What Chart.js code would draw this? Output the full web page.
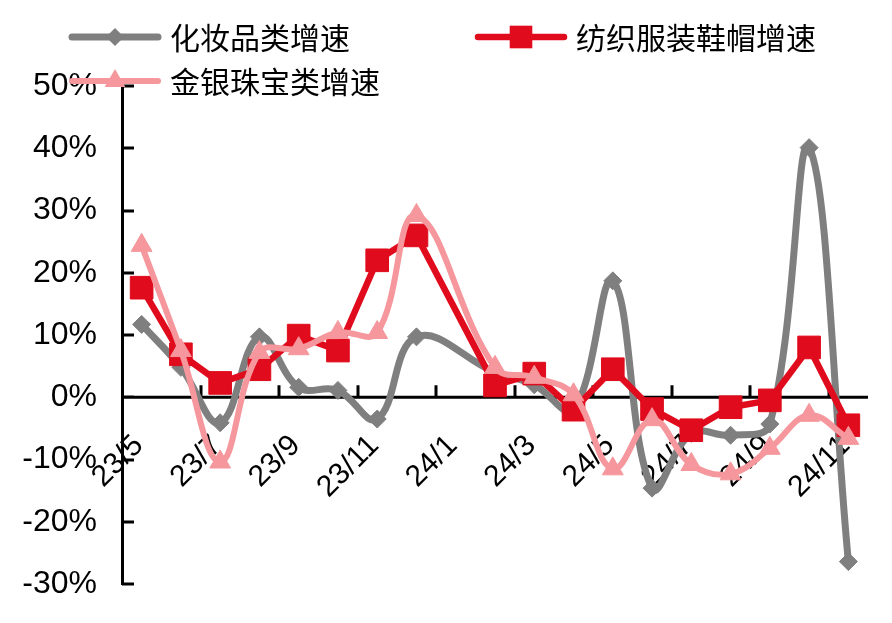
<!DOCTYPE html>
<html>
<head>
<meta charset="utf-8">
<script src="https://cdn.jsdelivr.net/npm/chart.js@4.4.1/dist/chart.umd.min.js"></script>
<style>
  html, body { margin: 0; padding: 0; background: #fff; }
  #chart { display: block; }
</style>
</head>
<body>
<canvas id="chart" width="892" height="623"></canvas>
<script>
// Datos (% interanual). 24/1 sin dato: enero-febrero se publica junto en 24/2
const categories = ['23/5', '23/6', '23/7', '23/8', '23/9', '23/10', '23/11', '23/12',
    '24/1', '24/2', '24/3', '24/4', '24/5', '24/6', '24/7', '24/8', '24/9', '24/10', '24/11'];
const cosmetics = [11.7, 4.8, -4.1, 9.7, 1.6, 1.1, -3.5, 9.7, null, 4.0, 2.0, -2.0, 18.7, -14.6, -5.8, -6.1, -4.3, 40.1, -26.4];
const apparel = [17.6, 6.9, 2.3, 4.5, 9.9, 7.5, 22.0, 26.0, null, 1.9, 3.8, -2.0, 4.5, -1.9, -5.3, -1.6, -0.5, 8.0, -4.5];
const jewelry = [24.4, 7.5, -10.4, 7.2, 7.8, 10.4, 10.4, 29.2, null, 4.8, 3.2, 0.4, -11.5, -3.6, -10.8, -12.3, -8.2, -2.9, -6.6];
const yTickMin = -30;
const yTickMax = 50;
const yTickStep = 10;

// Colores del tema
const themeColors = {
    cosmetics: '#7f7f7f',
    apparel: '#e00b1c',
    jewelry: '#f5979c',
    axis: '#000000',
    text: '#000000'
};

const xTickFont = { family: "'Liberation Sans', Arial, sans-serif", size: 30 };
const yTickFont = { family: "'Liberation Sans', Arial, sans-serif", size: 32 };
const legendFont = "30px 'Noto Sans CJK SC', sans-serif";

// Series en el orden de la leyenda
const seriesInfo = [
    { label: '化妆品类增速', data: cosmetics, color: themeColors.cosmetics, marker: 'rectRot', radius: 9, width: 7, tension: 0.4, order: 2 },
    { label: '纺织服装鞋帽增速', data: apparel, color: themeColors.apparel, marker: 'rect', radius: 16, width: 6.5, tension: 0, order: 1 },
    { label: '金银珠宝类增速', data: jewelry, color: themeColors.jewelry, marker: 'triangle', radius: 12, width: 6, tension: 0.4, order: 0 }
];

// Sin márgenes extra de las escalas: el área del gráfico queda fija
function noScalePadding(scale) {
    scale.paddingLeft = 0;
    scale.paddingRight = 0;
    scale.paddingTop = 0;
    scale.paddingBottom = 0;
}

// Eje en 0% y marcas de graduación hacia dentro (bajo las series)
const insideTicks = {
    id: 'insideTicks',
    beforeDatasetsDraw(chart) {
        const { ctx, scales: { x, y } } = chart;
        const len = 12;
        const zero = y.getPixelForValue(0);
        ctx.save();
        ctx.strokeStyle = themeColors.axis;
        ctx.lineWidth = 3;
        ctx.beginPath();
        ctx.moveTo(x.left, zero);
        ctx.lineTo(x.right, zero);
        y.ticks.forEach(t => {
            const py = Math.round(y.getPixelForValue(t.value));
            ctx.moveTo(y.right, py);
            ctx.lineTo(y.right + len, py);
        });
        const half = (x.getPixelForValue(1) - x.getPixelForValue(0)) / 2;
        for (let i = 2; i < categories.length; i += 2) {
            const px = Math.round(x.getPixelForValue(i) - half);
            ctx.moveTo(px, zero);
            ctx.lineTo(px, zero - len);
        }
        ctx.stroke();
        ctx.restore();
    }
};

function drawMarker(ctx, type, cx, cy, r) {
    ctx.beginPath();
    if (type === 'rect') {
        const s = r * Math.SQRT1_2;
        ctx.rect(cx - s, cy - s, 2 * s, 2 * s);
    } else if (type === 'rectRot') {
        ctx.moveTo(cx - r, cy);
        ctx.lineTo(cx, cy - r);
        ctx.lineTo(cx + r, cy);
        ctx.lineTo(cx, cy + r);
        ctx.closePath();
    } else {
        ctx.moveTo(cx, cy - r);
        ctx.lineTo(cx + r * Math.sin(Math.PI * 2 / 3), cy + r / 2);
        ctx.lineTo(cx - r * Math.sin(Math.PI * 2 / 3), cy + r / 2);
        ctx.closePath();
    }
    ctx.fill();
}

// Leyenda propia: línea con marcador y texto
const lineLegend = {
    id: 'lineLegend',
    afterDraw(chart) {
        const { ctx } = chart;
        const slots = [
            { x: 72, y: 37 },
            { x: 478, y: 37 },
            { x: 72, y: 81 }
        ];
        ctx.save();
        seriesInfo.forEach((s, i) => {
            const p = slots[i];
            ctx.strokeStyle = s.color;
            ctx.fillStyle = s.color;
            ctx.lineWidth = s.width;
            ctx.lineCap = 'round';
            ctx.beginPath();
            ctx.moveTo(p.x, p.y);
            ctx.lineTo(p.x + 86, p.y);
            ctx.stroke();
            drawMarker(ctx, s.marker, p.x + 43, p.y, s.radius);
            ctx.fillStyle = themeColors.text;
            ctx.font = legendFont;
            ctx.textAlign = 'left';
            ctx.textBaseline = 'middle';
            ctx.fillText(s.label, p.x + 98, p.y + 1);
        });
        ctx.restore();
    }
};

const ctx = document.getElementById('chart').getContext('2d');
new Chart(ctx, {
    type: 'line',
    data: {
        labels: categories,
        datasets: seriesInfo.map(s => ({
            label: s.label,
            data: s.data,
            order: s.order,
            borderColor: s.color,
            backgroundColor: s.color,
            borderWidth: s.width,
            tension: s.tension,
            spanGaps: true,
            fill: false,
            borderJoinStyle: 'round',
            borderCapStyle: 'round',
            pointStyle: s.marker,
            pointRadius: s.radius,
            pointBorderWidth: 1,
            pointBorderColor: s.color,
            pointBackgroundColor: s.color
        }))
    },
    options: {
        responsive: false,
        animation: false,
        layout: { padding: { top: 86, right: 24, bottom: 39, left: 0 } },
        plugins: {
            legend: { display: false },
            tooltip: { enabled: false }
        },
        scales: {
            x: {
                type: 'category',
                offset: true,
                position: { y: 0 },
                z: 1,
                grid: { display: true, drawOnChartArea: false, drawTicks: false, color: 'rgba(0,0,0,0)' },
                border: { display: false },
                afterFit: noScalePadding,
                ticks: {
                    autoSkip: false,
                    minRotation: 45,
                    maxRotation: 45,
                    padding: 31,
                    labelOffset: -3,
                    color: themeColors.text,
                    font: xTickFont,
                    callback: (value, index) => index % 2 === 0 ? categories[index] : ''
                }
            },
            y: {
                min: yTickMin,
                max: yTickMax,
                grid: { display: true, drawOnChartArea: false, drawTicks: false, color: 'rgba(0,0,0,0)' },
                border: { display: true, color: themeColors.axis, width: 3 },
                afterFit: scale => { scale.width = 122; noScalePadding(scale); },
                ticks: {
                    stepSize: yTickStep,
                    padding: 25,
                    color: themeColors.text,
                    font: yTickFont,
                    callback: value => value + '%'
                }
            }
        }
    },
    plugins: [insideTicks, lineLegend]
});
</script>
</body>
</html>
